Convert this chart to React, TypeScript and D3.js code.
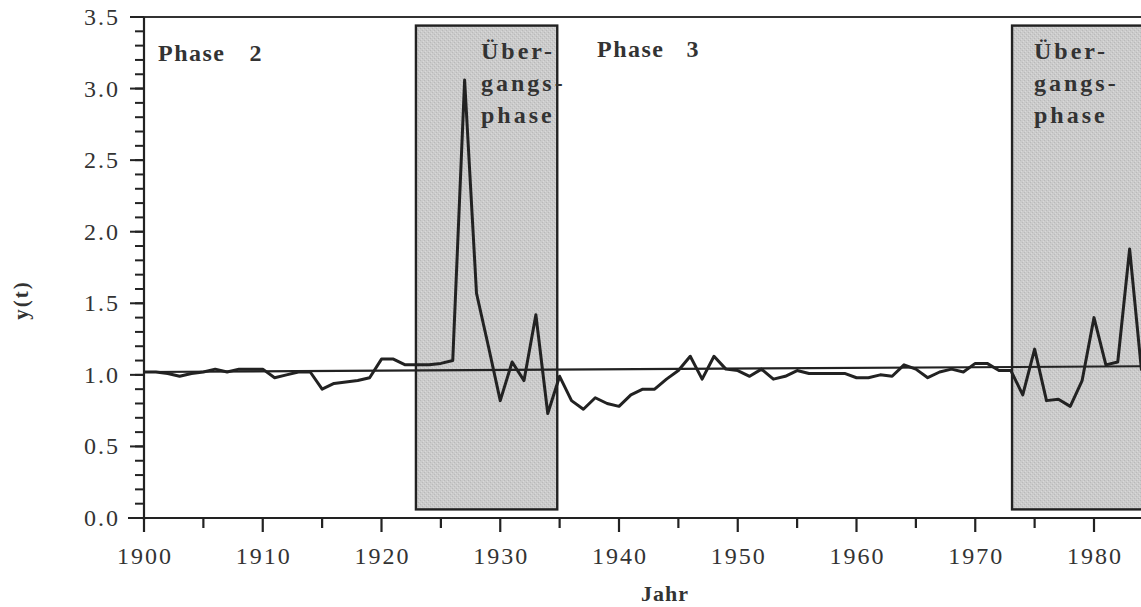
import React from "react";
import * as d3 from "d3";

// yearly values of y(t)
const years = d3.range(1900, 1985);
const values = [
  1.02, 1.02, 1.01, 0.99, 1.01, 1.02, 1.04, 1.02, 1.04, 1.04,
  1.04, 0.98, 1.0, 1.02, 1.02, 0.9, 0.94, 0.95, 0.96, 0.98,
  1.11, 1.11, 1.07, 1.07, 1.07, 1.08, 1.1, 3.06, 1.57, 1.2,
  0.82, 1.09, 0.96, 1.42, 0.73, 0.99, 0.82, 0.76, 0.84, 0.8,
  0.78, 0.86, 0.9, 0.9, 0.97, 1.03, 1.13, 0.97, 1.13, 1.04,
  1.03, 0.99, 1.04, 0.97, 0.99, 1.03, 1.01, 1.01, 1.01, 1.01,
  0.98, 0.98, 1.0, 0.99, 1.07, 1.04, 0.98, 1.02, 1.04, 1.02,
  1.08, 1.08, 1.03, 1.03, 0.86, 1.18, 0.82, 0.83, 0.78, 0.96,
  1.4, 1.07, 1.09, 1.88, 1.03,
];

// trend line end points [year, value]
const trend = [
  [1900, 1.02],
  [1984, 1.06],
];

// shaded transition phases [start, end]
const phases = [
  [1922.9, 1934.8],
  [1973.1, 1990],
];
const phaseTop = 3.44;
const phaseBottom = 0.06;

const xTicks = [1900, 1910, 1920, 1930, 1940, 1950, 1960, 1970, 1980];
const yTicks = [0, 0.5, 1, 1.5, 2, 2.5, 3, 3.5];

const serif = "'Liberation Serif', 'Times New Roman', serif";
const ink = "#222";

export default function App() {
  const width = 1141;
  const height = 607;

  const x = d3.scaleLinear().domain([1900, 1980]).range([144, 1094]);
  const y = d3.scaleLinear().domain([0, 3.5]).range([518, 17]);

  const line = d3
    .line<number>()
    .x((_, i) => x(years[i]))
    .y((d) => y(d))
    .curve(d3.curveLinear);

  const minorY = d3.range(0, 36).map((i) => i / 10);
  const minorX = d3.range(1905, 1990, 10);

  const boldText = {
    fontFamily: serif,
    fontWeight: 700,
    fontSize: 24,
    fill: "#333",
  } as const;

  const tickText = { fontFamily: serif, fontSize: 24, letterSpacing: 2, fill: "#333" } as const;

  const transitionLabel = (x0: number, key: string) => (
    <text key={key} x={x0} style={{ ...boldText, letterSpacing: 3 }}>
      <tspan x={x0} y={59}>Über-</tspan>
      <tspan x={x0} y={91}>gangs-</tspan>
      <tspan x={x0} y={123}>phase</tspan>
    </text>
  );

  return (
    <svg
      width={width}
      height={height}
      style={{ position: "absolute", left: 0, top: 0, background: "#fff" }}
    >
      <defs>
        <pattern id="grain" width="4" height="4" patternUnits="userSpaceOnUse">
          <rect width="4" height="4" fill="#cbcbcb" />
          <rect x="0" y="0" width="1" height="1" fill="#b9b9b9" />
          <rect x="2" y="2" width="1" height="1" fill="#b9b9b9" />
          <rect x="1" y="3" width="1" height="1" fill="#d9d9d9" />
          <rect x="3" y="1" width="1" height="1" fill="#d9d9d9" />
        </pattern>
      </defs>

      {/* shaded phases */}
      {phases.map(([a, b], i) => (
        <rect
          key={i}
          x={x(a)}
          y={y(phaseTop)}
          width={x(b) - x(a)}
          height={y(phaseBottom) - y(phaseTop)}
          fill="url(#grain)"
          stroke={ink}
          strokeWidth={2.4}
        />
      ))}

      {/* frame top */}
      <line x1={x(1900)} x2={width} y1={y(3.5)} y2={y(3.5)} stroke="#333" strokeWidth={2.2} />

      {/* trend line */}
      <line
        x1={x(trend[0][0])}
        y1={y(trend[0][1])}
        x2={x(trend[1][0])}
        y2={y(trend[1][1])}
        stroke={ink}
        strokeWidth={2.2}
      />

      {/* series */}
      <path d={line(values) || ""} fill="none" stroke={ink} strokeWidth={3} strokeLinejoin="round" />

      {/* y axis */}
      <line x1={x(1900)} x2={x(1900)} y1={y(0) + 2} y2={y(3.5)} stroke={ink} strokeWidth={2.2} />
      {minorY.map((v) => (
        <line key={v} x1={x(1900) - 9} x2={x(1900)} y1={y(v)} y2={y(v)} stroke={ink} strokeWidth={2} />
      ))}
      {yTicks.map((v) => (
        <g key={v}>
          <line x1={x(1900) - 14} x2={x(1900)} y1={y(v)} y2={y(v)} stroke={ink} strokeWidth={2} />
          <text x={120} y={y(v) + 8} textAnchor="end" style={tickText}>
            {d3.format(".1f")(v)}
          </text>
        </g>
      ))}

      {/* x axis */}
      <line x1={x(1900) - 16} x2={width} y1={y(0)} y2={y(0)} stroke={ink} strokeWidth={2.2} />
      {minorX.map((yr) => (
        <line key={yr} x1={x(yr)} x2={x(yr)} y1={y(0)} y2={y(0) + 10} stroke={ink} strokeWidth={2.2} />
      ))}
      {xTicks.map((yr) => (
        <g key={yr}>
          <line x1={x(yr)} x2={x(yr)} y1={y(0)} y2={y(0) + 14} stroke={ink} strokeWidth={2.2} />
          <text x={x(yr) + 1} y={564} textAnchor="middle" style={tickText}>
            {yr}
          </text>
        </g>
      ))}

      {/* axis titles */}
      <text x={665} y={601} textAnchor="middle" style={{ ...boldText, fontSize: 22, letterSpacing: 1 }}>
        Jahr
      </text>
      <text
        transform="translate(28,300) rotate(-90)"
        textAnchor="middle"
        style={{ ...boldText, fontSize: 21, letterSpacing: 2 }}
      >
        y(t)
      </text>

      {/* phase labels */}
      <text x={158} y={61} style={{ ...boldText, letterSpacing: 1.5 }}>
        Phase<tspan dx={24}>2</tspan>
      </text>
      <text x={597} y={57} style={{ ...boldText, letterSpacing: 1.5 }}>
        Phase<tspan dx={22}>3</tspan>
      </text>
      {transitionLabel(481, "t1")}
      {transitionLabel(1034, "t2")}
    </svg>
  );
}
